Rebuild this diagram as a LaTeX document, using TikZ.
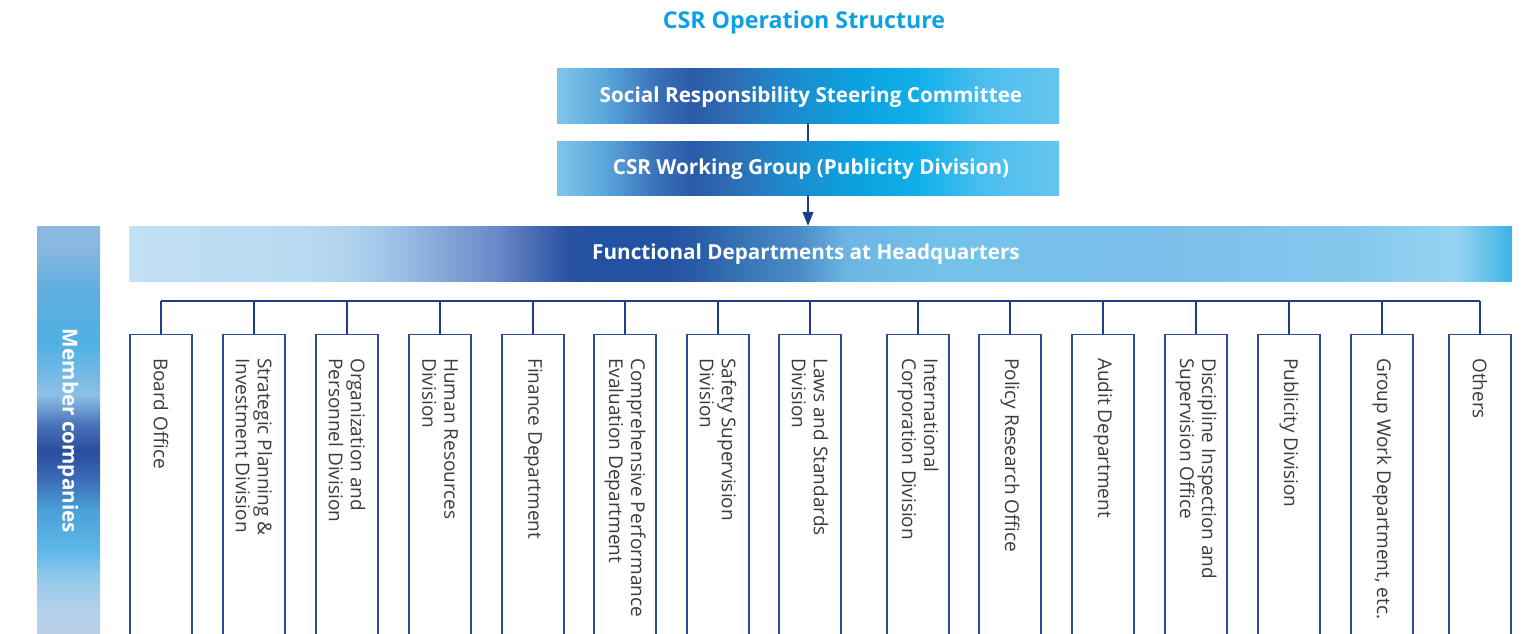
\documentclass[tikz,border=0pt]{standalone}
\usepackage{fontspec}
\setmainfont{Open Sans}
\usetikzlibrary{arrows.meta}
\definecolor{titlec}{HTML}{0EA0E2}
\definecolor{framec}{HTML}{2B4C9B}
\definecolor{connc}{HTML}{1E3C8C}
\definecolor{textc}{HTML}{3C3C3C}
% top boxes
\definecolor{ta}{HTML}{80C6EC}\definecolor{tb}{HTML}{58A4DA}\definecolor{tc}{HTML}{3A70B8}
\definecolor{td}{HTML}{2A5AA8}\definecolor{te}{HTML}{2E6CB5}\definecolor{tf}{HTML}{1F88CC}
\definecolor{tg}{HTML}{0BA2E0}\definecolor{th}{HTML}{10B0EA}\definecolor{ti}{HTML}{4CBEEE}
\definecolor{tj}{HTML}{65C6F0}
% functional bar
\definecolor{fa}{HTML}{C2E0F4}\definecolor{fb}{HTML}{B8DAF2}\definecolor{fc}{HTML}{B0D2EE}
\definecolor{fd}{HTML}{98C0E6}\definecolor{fe}{HTML}{7EA4D6}\definecolor{ff}{HTML}{6688C8}
\definecolor{fg}{HTML}{4A6CB6}\definecolor{fh}{HTML}{2A52A2}\definecolor{fi}{HTML}{2452A2}
\definecolor{fj}{HTML}{2A5EA8}\definecolor{fk}{HTML}{3A78B8}\definecolor{fl}{HTML}{4A8CC8}
\definecolor{fm}{HTML}{6CB5E3}\definecolor{fn}{HTML}{72C2EA}\definecolor{fo}{HTML}{7CC0EA}
\definecolor{fp}{HTML}{85C8EE}\definecolor{fq}{HTML}{95D4F2}\definecolor{fr}{HTML}{60C0EA}
\definecolor{fs}{HTML}{3AB0E3}
% member bar
\definecolor{ma}{HTML}{B8D0E8}\definecolor{mb}{HTML}{B4D0EA}\definecolor{mc}{HTML}{90C8EA}
\definecolor{md}{HTML}{60B8E8}\definecolor{me}{HTML}{4AA0D8}\definecolor{mf}{HTML}{3A68B4}
\definecolor{mg}{HTML}{2A4C9C}\definecolor{mh}{HTML}{4870B8}\definecolor{mi}{HTML}{8CC0E6}
\definecolor{mj}{HTML}{50B0E4}\definecolor{mk}{HTML}{60AEE0}\definecolor{ml}{HTML}{8AB8E0}
\pgfdeclarehorizontalshading{topbox}{100bp}{
  color(0bp)=(ta); color(25bp)=(ta); color(30bp)=(tb);
  color(35bp)=(tc); color(38.5bp)=(td); color(42.5bp)=(te);
  color(47.5bp)=(tf); color(55bp)=(tg); color(61bp)=(th);
  color(67.5bp)=(ti); color(75bp)=(tj); color(100bp)=(tj)}
\pgfdeclarehorizontalshading{fdbar}{100bp}{
  color(0bp)=(fa); color(25bp)=(fa); color(31.2bp)=(fb); color(33bp)=(fc);
  color(34.8bp)=(fd); color(36.6bp)=(fe); color(38.4bp)=(ff); color(39.6bp)=(fg);
  color(40.85bp)=(fh); color(42bp)=(fi); color(44.45bp)=(fi); color(45.65bp)=(fj);
  color(47.45bp)=(fk); color(49.25bp)=(fl); color(50.9bp)=(fm); color(54.25bp)=(fn);
  color(62.65bp)=(fo); color(69.3bp)=(fp); color(72.95bp)=(fq); color(74.25bp)=(fr);
  color(75bp)=(fs); color(100bp)=(fs)}
\pgfdeclareverticalshading{membar}{100bp}{
  color(0bp)=(ma); color(25bp)=(ma); color(28.05bp)=(mb);
  color(32.1bp)=(mc); color(35.15bp)=(md); color(40.2bp)=(me);
  color(44.35bp)=(mf); color(47.45bp)=(mg); color(50.5bp)=(mh);
  color(54.3bp)=(mi); color(60.65bp)=(mj); color(67.15bp)=(mk);
  color(72.55bp)=(ml); color(75bp)=(ml); color(100bp)=(ml)}
\begin{document}
\begin{tikzpicture}[x=1pt,y=-1pt,
  frame/.style={draw=framec, line width=1.1pt, fill=white, minimum width=62pt,
    minimum height=330pt, anchor=north, inner sep=0pt},
  dtext/.style={rotate=-90, anchor=west, align=left, inner sep=0pt, text=textc,
    font=\fontsize{19}{22}\selectfont},
  wtext/.style={text=white, font=\bfseries\fontsize{20.7}{24}\selectfont, inner sep=0pt},
  topb/.style={shade, shading=topbox, minimum width=502pt, minimum height=54pt, inner sep=0pt},
  conn/.style={draw=connc, line width=1.2pt}]
\useasboundingbox (0,0) rectangle (1524,634);
\clip (0,0) rectangle (1524,634);
\node[text=titlec, font=\bfseries\fontsize{23.2}{27}\selectfont, inner sep=0pt] (title) at (804,22.5) {CSR Operation Structure};
\node[topb] (s1) at (808,96) {};
\node[wtext] (s1t) at (811,97) {Social Responsibility Steering Committee};
\node[topb] (s2) at (808,168) {};
\node[wtext] (s2t) at (811,169) {CSR Working Group (Publicity Division)};
\node[shade, shading=fdbar, minimum width=1383pt, minimum height=55pt, inner sep=0pt] (fdb) at (820.5,253.5) {};
\node[wtext] (fdt) at (806,254) {Functional Departments at Headquarters};
\node[shade, shading=membar, minimum width=63pt, minimum height=408pt, inner sep=0pt] (mem) at (68.5,430) {};
\node[wtext, rotate=-90] (memt) at (68,431) {Member companies};
\draw[conn] (s1.south) -- (s2.north);
\draw[conn, -{Triangle[width=11pt,length=14pt]}] (s2.south) -- (s2.south |- fdb.north);
\coordinate (bus) at (0,301);
\foreach \i/\x/\t in {1/161/{Board Office},
  2/254/{Strategic Planning \&\\Investment Division},
  3/347/{Organization and\\Personnel Division},
  4/440/{Human Resources\\Division},
  5/533/{Finance Department},
  6/625/{Comprehensive Performance\\Evaluation Department},
  7/718/{Safety Supervision\\Division},
  8/810/{Laws and Standards\\Division},
  9/918/{International\\Corporation Division},
  10/1010/{Policy Research Office},
  11/1103/{Audit Department},
  12/1196/{Discipline Inspection and\\Supervision Office},
  13/1289/{Publicity Division},
  14/1382/{Group Work Department, etc.},
  15/1480/{Others}}{
  \node[frame] (b\i) at (\x,334) {};
  \node[dtext] (t\i) at (\x,358) {\t};
  \draw[conn] (b\i.north) -- (b\i.north |- bus);
}
\draw[conn] (b1.north |- bus) -- (b15.north |- bus);
\end{tikzpicture}
\end{document}
